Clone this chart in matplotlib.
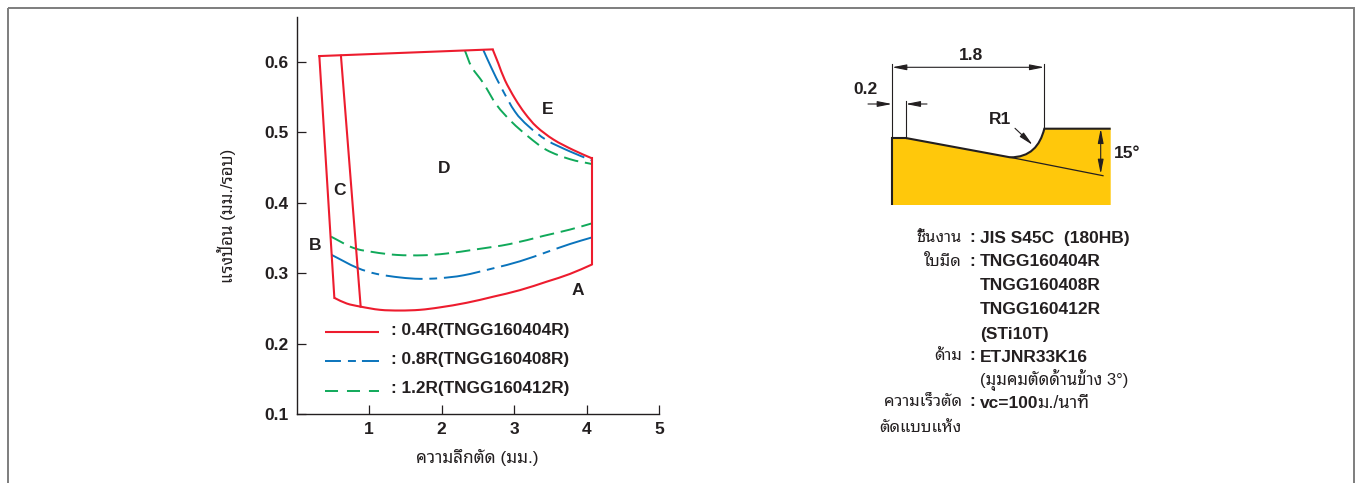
import matplotlib
matplotlib.use("Agg")
import matplotlib.pyplot as plt
import numpy as np
from matplotlib.patches import PathPatch, Rectangle
from matplotlib.path import Path

W, H = 1356, 483

RED = "#ed1c2e"
BLUE = "#0a74bc"
GREEN = "#10a95a"
DARK = "#231f20"
AMBER = "#ffc80b"

# region outline, 0.4R
red_low_x = [0.522, 0.692, 0.885, 1.152, 1.428, 1.703, 1.979, 2.347, 2.715, 3.083, 3.451, 3.772, 4.080]
red_low_y = [0.265, 0.257, 0.2525, 0.248, 0.247, 0.248, 0.2515, 0.258, 0.2667, 0.276, 0.288, 0.299, 0.3126]
red_up_x = [2.706, 2.784, 2.876, 3.014, 3.152, 3.313, 3.543, 3.818, 4.080]
red_up_y = [0.618, 0.598, 0.574, 0.548, 0.527, 0.508, 0.490, 0.475, 0.463]
red_corner_x = [0.315]
red_corner_y = [0.6085]
divider_x = [0.613, 0.885]
divider_y = [0.609, 0.2525]

# 0.8R
blue_low_x = [0.485, 0.830, 1.106, 1.428, 1.703, 1.979, 2.301, 2.715, 3.083, 3.451, 3.772, 4.080]
blue_low_y = [0.326, 0.308, 0.299, 0.294, 0.292, 0.293, 0.297, 0.307, 0.317, 0.330, 0.3415, 0.351]
blue_up_x = [2.577, 2.692, 2.830, 3.014, 3.198, 3.451, 3.772, 4.080]
blue_up_y = [0.617, 0.591, 0.5626, 0.5295, 0.509, 0.489, 0.473, 0.460]

# 1.2R
green_low_x = [0.476, 0.784, 1.060, 1.382, 1.749, 2.071, 2.485, 2.945, 3.405, 3.772, 4.080]
green_low_y = [0.352, 0.336, 0.330, 0.326, 0.3255, 0.328, 0.334, 0.3415, 0.353, 0.362, 0.371]
green_up_x = [2.324, 2.416, 2.577, 2.761, 2.968, 3.198, 3.451, 3.772, 4.080]
green_up_y = [0.616, 0.593, 0.570, 0.539, 0.515, 0.494, 0.475, 0.462, 0.455]

x_ticks = [1, 2, 3, 4, 5]
y_ticks = [0.1, 0.2, 0.3, 0.4, 0.5, 0.6]
y_labels = ["0.1", "0.2", "0.3", "0.4", "0.5", "0.6"]

legend_labels = [": 0.4R(TNGG160404R)", ": 0.8R(TNGG160408R)", ": 1.2R(TNGG160412R)"]
region_labels = ["A", "B", "C", "D", "E"]
region_x = [3.88, 0.255, 0.596, 2.04, 3.46]
region_y = [0.276, 0.340, 0.417, 0.449, 0.533]

spec_keys = ["ชิ้นงาน", "ใบมีด", "ด้าม", "ความเร็วตัด", "ตัดแบบแห้ง"]
spec_key_y = [238, 261, 356, 402, 427]
spec_values = ["JIS S45C  (180HB)", "TNGG160404R", "TNGG160408R", "TNGG160412R",
               "(STi10T)", "ETJNR33K16", "vc=100"]
spec_value_y = [238, 262, 285, 309, 334, 357, 403]


def smooth_path(xs, ys):
    # bezier through the read points so the curves have no corners
    p = np.column_stack([xs, ys])
    t = np.gradient(p, axis=0)
    verts = [p[0]]
    codes = [Path.MOVETO]
    for i in range(len(p) - 1):
        verts += [p[i] + t[i] / 3, p[i + 1] - t[i + 1] / 3, p[i + 1]]
        codes += [Path.CURVE4] * 3
    return Path(verts, codes)


def curve(ax, xs, ys, color, lw, ls="-"):
    ax.add_patch(PathPatch(smooth_path(xs, ys), fc="none", ec=color, lw=lw, ls=ls, capstyle="butt"))


plt.rcParams["font.family"] = ["Liberation Sans", "Noto Sans Thai Looped", "DejaVu Sans"]

fig = plt.figure(figsize=(W / 100, H / 100), dpi=100)
ax = fig.add_axes([296.5 / W, 1 - 414 / H, 362.5 / W, 397 / H])
ax.set_xlim(0, 5)
ax.set_ylim(0.1, 0.664)
ax.patch.set_alpha(0)

blue_style = (0, (19, 3.5, 4, 3.5))
green_style = (0, (7.5, 3.5))
RED_LW, LINE_LW = 1.5, 1.4

curve(ax, red_low_x, red_low_y, RED, RED_LW)
curve(ax, red_up_x, red_up_y, RED, RED_LW)
ax.plot(red_corner_x + red_low_x[:1], red_corner_y + red_low_y[:1], color=RED, lw=RED_LW)
ax.plot(red_corner_x + red_up_x[:1], red_corner_y + red_up_y[:1], color=RED, lw=RED_LW)
ax.plot(red_low_x[-1:] + red_up_x[-1:], red_low_y[-1:] + red_up_y[-1:], color=RED, lw=RED_LW)
ax.plot(divider_x, divider_y, color=RED, lw=RED_LW)
curve(ax, blue_low_x, blue_low_y, BLUE, LINE_LW, blue_style)
curve(ax, blue_up_x, blue_up_y, BLUE, LINE_LW, blue_style)
curve(ax, green_low_x, green_low_y, GREEN, LINE_LW, green_style)
curve(ax, green_up_x, green_up_y, GREEN, LINE_LW, green_style)

for spine in ["top", "right"]:
    ax.spines[spine].set_visible(False)
for spine in ["left", "bottom"]:
    ax.spines[spine].set_color(DARK)
    ax.spines[spine].set_linewidth(1.0)

ax.set_xticks(x_ticks)
ax.set_yticks(y_ticks)
ax.set_yticklabels(y_labels)
ax.tick_params(axis="both", direction="in", length=6.5, width=0.9, color=DARK, labelcolor=DARK, labelsize=12.5)
ax.tick_params(axis="x", pad=6)
ax.tick_params(axis="y", pad=6)
for label in ax.get_xticklabels() + ax.get_yticklabels():
    label.set_fontweight("bold")

for name, x, y in zip(region_labels, region_x, region_y):
    ax.text(x, y, name, fontsize=12.5, fontweight="bold", color=DARK, ha="center", va="center")

# overlay in pixels for frame, legend, titles and insert drawing
ov = fig.add_axes([0, 0, 1, 1])
ov.set_xlim(0, W)
ov.set_ylim(H, 0)
ov.axis("off")
ov.patch.set_alpha(0)

ov.add_patch(Rectangle((8, 8), 1346, 500, fill=False, ec="#7d7d7d", lw=1.4))

ov.text(477.5, 457, "ความลึกตัด (มม.)", fontsize=12.4, color=DARK, ha="center", va="center")
ov.text(227, 215.5, "แรงป้อน (มม./รอบ)", fontsize=12.2, color=DARK, ha="center", va="center", rotation=90)

legend_blue = (0, (8.2, 3.6, 4.1, 3.1, 24, 1))
legend_green = (0, (6.7, 4.6))
legend_styles = [("-", RED, RED_LW), (legend_blue, BLUE, LINE_LW), (legend_green, GREEN, LINE_LW)]
legend_y = [331.5, 361, 390.5]
for label, (ls, color, lw), y in zip(legend_labels, legend_styles, legend_y):
    ov.plot([325, 379], [y, y], ls=ls, color=color, lw=lw, solid_capstyle="butt", dash_capstyle="butt")
    ov.text(391, y - 1.5, label, fontsize=12.4, fontweight="bold", color=DARK, va="center")

# insert section drawing
verts = [(892, 205), (892, 138), (905.7, 138), (1010, 157.3), (1030, 157.5), (1040, 146), (1044.3, 128.7),
         (1110.7, 128.7), (1110.7, 205), (892, 205)]
codes = [Path.MOVETO, Path.LINETO, Path.LINETO, Path.LINETO, Path.CURVE4, Path.CURVE4, Path.CURVE4,
         Path.LINETO, Path.LINETO, Path.CLOSEPOLY]
ov.add_patch(PathPatch(Path(verts, codes), fc=AMBER, ec="none"))
ov.add_patch(PathPatch(Path(verts[:8], codes[:8]), fc="none", ec=DARK, lw=1.5))

ov.plot([1010, 1103], [157.3, 175.7], color=DARK, lw=0.9)
ov.plot([892, 892], [138, 64], color=DARK, lw=0.8)
ov.plot([905.7, 905.7], [138, 100.7], color=DARK, lw=0.8)
ov.plot([1044.3, 1044.3], [128.7, 64], color=DARK, lw=0.8)

one = "-|>,head_length=0.86,head_width=0.17"
both = "<|-|>,head_length=0.86,head_width=0.17"
arrow = dict(arrowstyle=one, color=DARK, lw=0.8, mutation_scale=10, shrinkA=0, shrinkB=0)
arrow2 = dict(arrowstyle=both, color=DARK, lw=0.8, mutation_scale=10, shrinkA=0, shrinkB=0)
ov.annotate("", xy=(1044.3, 67.3), xytext=(892, 67.3), arrowprops=arrow2)
ov.annotate("", xy=(892, 104), xytext=(868, 104), arrowprops=arrow)
ov.annotate("", xy=(905.7, 104), xytext=(927, 104), arrowprops=arrow)
ov.annotate("", xy=(1032.7, 145), xytext=(1015, 128.3), arrowprops=arrow)
ov.annotate("", xy=(1100.7, 174), xytext=(1100.7, 128.7), arrowprops=arrow2)

ov.text(971.5, 56, "1.8", fontsize=12.5, fontweight="bold", color=DARK, ha="center", va="center")
ov.text(866, 90, "0.2", fontsize=12.5, fontweight="bold", color=DARK, ha="center", va="center")
ov.text(1000, 120, "R1", fontsize=12.5, fontweight="bold", color=DARK, ha="center", va="center")
ov.text(1127, 154, "15°", fontsize=12.5, fontweight="bold", color=DARK, ha="center", va="center")

# spec list
for key, y in zip(spec_keys, spec_key_y):
    ov.text(962, y, key, fontsize=11.9, color=DARK, ha="right", va="center")
for y in spec_key_y[:-1]:
    ov.text(972, y, ":", fontsize=12.5, fontweight="bold", color=DARK, ha="center", va="center")
for value, y in zip(spec_values, spec_value_y):
    ov.text(980, y, value, fontsize=12.5, fontweight="bold", color=DARK, va="center")
ov.text(1037, 403, "ม./นาที", fontsize=13, color=DARK, va="center")
ov.text(980, 380, "(มุมคมตัดด้านข้าง 3°)", fontsize=12, color=DARK, va="center")

fig.savefig("out.png", dpi=100)
